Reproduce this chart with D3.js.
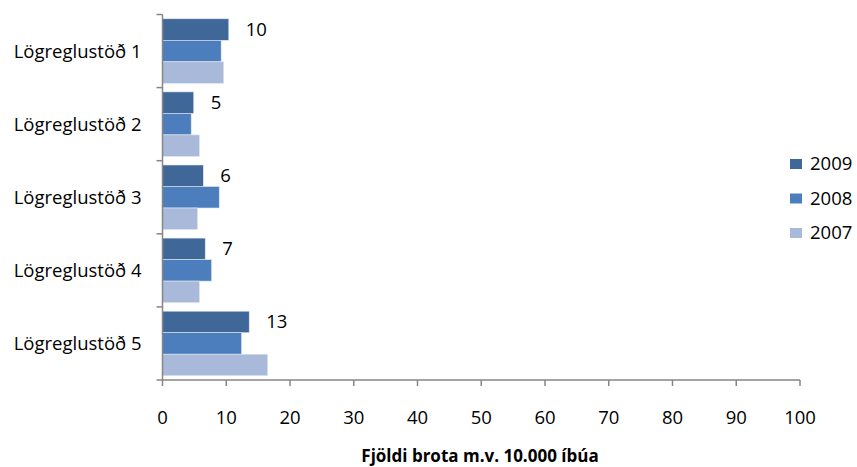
<!DOCTYPE html>
<html>
<head>
<meta charset="utf-8">
<script src="https://cdn.jsdelivr.net/npm/d3@7"></script>
<style>
  body { margin: 0; background: #fff; }
  text { font-family: "Open Sans", Lato, sans-serif; }
</style>
</head>
<body>
<div id="chart"></div>
<script>
// Data
let stations = ["Lögreglustöð 1", "Lögreglustöð 2", "Lögreglustöð 3", "Lögreglustöð 4", "Lögreglustöð 5"];
let years = ["2009", "2008", "2007"];
let values2009 = [10.4, 4.9, 6.4, 6.7, 13.6];
let values2008 = [9.2, 4.5, 8.9, 7.7, 12.4];
let values2007 = [9.6, 5.8, 5.5, 5.8, 16.5];
let labels2009 = ["10", "5", "6", "7", "13"];
let xTicks = [0, 10, 20, 30, 40, 50, 60, 70, 80, 90, 100];
let colors = ["#3F6797", "#4C7EBD", "#A9B9D9"];

let series = [values2009, values2008, values2007];

var width = 857;
var height = 467;
var margin = { top: 14.5, right: 57, bottom: 87, left: 162.5 };
var fontSize = "18.5px";

var svg = d3.select("#chart")
    .append("svg")
    .attr("width", width)
    .attr("height", height);

// Scales
var x = d3.scaleLinear()
    .domain([0, 100])
    .range([margin.left, width - margin.right]);

var y = d3.scaleBand()
    .domain(stations)
    .range([margin.top, height - margin.bottom]);

var inner = d3.scaleBand()
    .domain(years)
    .range([0, y.bandwidth()])
    .paddingOuter(0.2);

// Bars
stations.forEach(function (s, i) {
    years.forEach(function (yr, j) {
        svg.append("rect")
            .attr("x", x(0))
            .attr("y", y(s) + inner(yr))
            .attr("width", x(series[j][i]) - x(0))
            .attr("height", inner.bandwidth())
            .attr("fill", colors[j])
            .attr("stroke", "#dfe6f1")
            .attr("stroke-width", 0.6);
    });
    // value labels for 2009
    svg.append("text")
        .attr("x", x(values2009[i]) + 17)
        .attr("y", y(s) + inner("2009") + inner.bandwidth() / 2)
        .attr("dy", "0.35em")
        .style("font-size", fontSize)
        .attr("fill", "#000")
        .text(labels2009[i]);
});

// Y axis
var yAxis = svg.append("g")
    .attr("transform", "translate(" + x(0) + ",0)");
yAxis.append("line")
    .attr("x1", 0).attr("x2", 0)
    .attr("y1", margin.top).attr("y2", height - margin.bottom)
    .attr("stroke", "#868686").attr("stroke-width", 1.5);
var yTickPos = stations.map(function (s) { return y(s); }).concat([height - margin.bottom]);
yAxis.selectAll(".ytick")
    .data(yTickPos)
    .enter()
    .append("line")
    .attr("x1", -6).attr("x2", 0)
    .attr("y1", function (d) { return d; })
    .attr("y2", function (d) { return d; })
    .attr("stroke", "#868686").attr("stroke-width", 1.5);
yAxis.selectAll(".ylabel")
    .data(stations)
    .enter()
    .append("text")
    .attr("x", -21)
    .attr("y", function (d) { return y(d) + y.bandwidth() / 2; })
    .attr("dy", "0.35em")
    .attr("text-anchor", "end")
    .style("font-size", fontSize)
    .text(function (d) { return d; });

// X axis
var xAxis = svg.append("g")
    .attr("transform", "translate(0," + (height - margin.bottom) + ")");
xAxis.append("line")
    .attr("x1", x(0)).attr("x2", x(100))
    .attr("y1", 0).attr("y2", 0)
    .attr("stroke", "#868686").attr("stroke-width", 1.5);
xAxis.selectAll(".xtick")
    .data(xTicks)
    .enter()
    .append("line")
    .attr("x1", function (d) { return x(d); })
    .attr("x2", function (d) { return x(d); })
    .attr("y1", 0).attr("y2", 6)
    .attr("stroke", "#868686").attr("stroke-width", 1.5);
xAxis.selectAll(".xlabel")
    .data(xTicks)
    .enter()
    .append("text")
    .attr("x", function (d) { return x(d); })
    .attr("y", 38)
    .attr("dy", "0.35em")
    .attr("text-anchor", "middle")
    .style("font-size", fontSize)
    .text(function (d) { return d; });

// Axis title
svg.append("text")
    .attr("x", 480)
    .attr("y", 462)
    .attr("text-anchor", "middle")
    .style("font-size", "17px")
    .style("font-weight", "bold")
    .text("Fjöldi brota m.v. 10.000 íbúa");

// Legend
var legend = svg.selectAll(".legend")
    .data(years)
    .enter()
    .append("g")
    .attr("transform", function (d, i) { return "translate(790," + (159 + i * 34.5) + ")"; });
legend.append("rect")
    .attr("width", 12).attr("height", 10)
    .attr("fill", function (d, i) { return colors[i]; });
legend.append("text")
    .attr("x", 20)
    .attr("y", 5)
    .attr("dy", "0.35em")
    .style("font-size", fontSize)
    .text(function (d) { return d; });
</script>
</body>
</html>
